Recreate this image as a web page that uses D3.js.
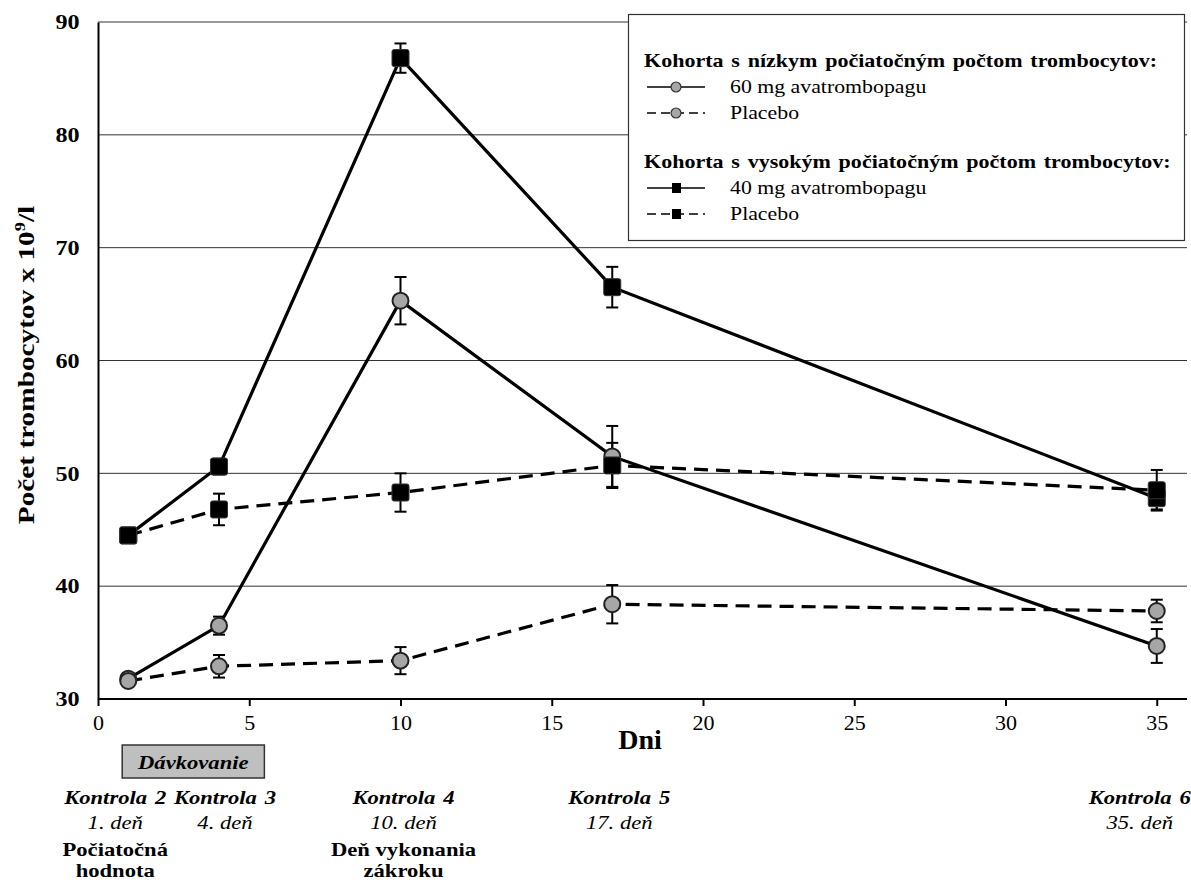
<!DOCTYPE html>
<html>
<head>
<meta charset="utf-8">
<script src="https://cdn.jsdelivr.net/npm/d3@7"></script>
<style>
  body { margin: 0; background: #fff; }
  svg { display: block; font-family: "Liberation Serif", "Times New Roman", serif; }
</style>
</head>
<body>
<svg id="chart" width="1191" height="883"></svg>
<script>
// data
const days = [1, 4, 10, 17, 35];
const low60 = [31.8, 36.5, 65.3, 51.5, 34.7];
const low60Err = [0.3, 0.8, 2.1, 2.7, 1.5];
const lowPlacebo = [31.6, 32.9, 33.4, 38.4, 37.8];
const lowPlaceboErr = [0.3, 1.0, 1.2, 1.7, 1.0];
const high40 = [44.5, 50.6, 86.8, 66.5, 47.8];
const high40Err = [0.3, 0.7, 1.3, 1.8, 1.0];
const highPlacebo = [44.5, 46.8, 48.3, 50.7, 48.5];
const highPlaceboErr = [0.3, 1.4, 1.7, 2.0, 1.8];
const xTicks = [0, 5, 10, 15, 20, 25, 30, 35];
const yTicks = [30, 40, 50, 60, 70, 80, 90];
const visitNames = ["Kontrola 2", "Kontrola 3", "Kontrola 4", "Kontrola 5", "Kontrola 6"];
const visitDays = ["1. deň", "4. deň", "10. deň", "17. deň", "35. deň"];
const legendTitles = ["Kohorta s nízkym počiatočným počtom trombocytov:",
                      "Kohorta s vysokým počiatočným počtom trombocytov:"];

const series = [
  { name: "60 mg avatrombopagu", values: low60, err: low60Err, shape: "circle", dashed: false },
  { name: "Placebo", values: lowPlacebo, err: lowPlaceboErr, shape: "circle", dashed: true },
  { name: "40 mg avatrombopagu", values: high40, err: high40Err, shape: "square", dashed: false },
  { name: "Placebo", values: highPlacebo, err: highPlaceboErr, shape: "square", dashed: true }
];

const svg = d3.select("#chart");
const m = { left: 98, right: 1187, top: 22, bottom: 699 };
const SX = 1.16; // the source text is a bit wider than plain Times

const x = d3.scaleLinear().domain([0, 36]).range([m.left, m.right]);
const y = d3.scaleLinear().domain([30, 90]).range([m.bottom, m.top]);

// text with a horizontal stretch
function stext(parent, tx, ty, str, size, opts = {}) {
  return parent.append("text")
    .attr("transform", `translate(${tx},${ty}) scale(${opts.sx || SX},1)`)
    .attr("text-anchor", opts.anchor || "start")
    .attr("font-size", size)
    .attr("font-weight", opts.bold ? "bold" : null)
    .attr("font-style", opts.italic ? "italic" : null)
    .attr("word-spacing", opts.ws || null)
    .text(str);
}

// gridlines
svg.append("g")
  .selectAll("line")
  .data(yTicks.filter(d => d > 30))
  .join("line")
  .attr("x1", m.left).attr("x2", m.right)
  .attr("y1", d => y(d)).attr("y2", d => y(d))
  .attr("stroke", "#333").attr("stroke-width", 1);

// x axis
const xAxis = svg.append("g")
  .attr("transform", `translate(0,${m.bottom})`)
  .call(d3.axisBottom(x).tickValues(xTicks).tickSize(7).tickPadding(10).tickFormat(d3.format("d")));
xAxis.select(".domain").attr("stroke", "#000").attr("stroke-width", 2).attr("d", `M${m.left},0H${m.right}`);
xAxis.selectAll(".tick line").attr("stroke", "#000").attr("stroke-width", 2);
xAxis.selectAll(".tick text").attr("font-size", 20).attr("font-family", "Liberation Serif")
  .attr("fill", "#000").attr("transform", "scale(1.1,1)");

// y axis
const yAxis = svg.append("g")
  .attr("transform", `translate(${m.left},0)`)
  .call(d3.axisLeft(y).tickValues(yTicks).tickSize(0).tickPadding(16));
yAxis.select(".domain").attr("stroke", "#000").attr("stroke-width", 2);
yAxis.selectAll(".tick text").attr("font-size", 21).attr("font-weight", "bold")
  .attr("font-family", "Liberation Serif").attr("fill", "#000").attr("transform", "scale(1.15,1)");

// axis titles
svg.append("text")
  .attr("x", 640).attr("y", 749)
  .attr("text-anchor", "middle")
  .attr("font-size", 28).attr("font-weight", "bold")
  .text("Dni");

const yTitle = svg.append("text")
  .attr("transform", "translate(34,365) rotate(-90) scale(1.22,1)")
  .attr("text-anchor", "middle")
  .attr("font-size", 24).attr("font-weight", "bold");
yTitle.append("tspan").text("Počet trombocytov x 10");
yTitle.append("tspan").attr("font-size", 15).attr("dy", -9).text("9");
yTitle.append("tspan").attr("dy", 9).text("/l");

// lines
const line = d3.line().x((d, i) => x(days[i])).y(d => y(d));
const plot = svg.append("g");
series.forEach(s => {
  plot.append("path")
    .datum(s.values)
    .attr("d", line)
    .attr("fill", "none")
    .attr("stroke", "#000")
    .attr("stroke-width", 3.2)
    .attr("stroke-dasharray", s.dashed ? "14,8" : null);
});

// error bars
series.forEach(s => {
  const g = plot.append("g").attr("stroke", "#000").attr("stroke-width", 2);
  s.values.forEach((v, i) => {
    const cx = x(days[i]);
    const y1 = y(v + s.err[i]), y2 = y(v - s.err[i]);
    g.append("line").attr("x1", cx).attr("x2", cx).attr("y1", y1).attr("y2", y2);
    g.append("line").attr("x1", cx - 6).attr("x2", cx + 6).attr("y1", y1).attr("y2", y1);
    g.append("line").attr("x1", cx - 6).attr("x2", cx + 6).attr("y1", y2).attr("y2", y2);
  });
});

function drawMarker(g, shape, cx, cy, size) {
  if (shape === "circle") {
    g.append("circle").attr("cx", cx).attr("cy", cy).attr("r", size / 2)
      .attr("fill", "#a6a6a6").attr("stroke", "#222").attr("stroke-width", 2);
  } else {
    g.append("rect").attr("x", cx - size / 2).attr("y", cy - size / 2)
      .attr("width", size).attr("height", size).attr("rx", 2)
      .attr("fill", "#000").attr("stroke", "#333").attr("stroke-width", 1);
  }
}

// markers
series.forEach(s => {
  const g = plot.append("g");
  s.values.forEach((v, i) => drawMarker(g, s.shape, x(days[i]), y(v), s.shape === "circle" ? 16 : 17));
});

// legend
const lg = svg.append("g");
lg.append("rect").attr("x", 628.5).attr("y", 14.5).attr("width", 556).attr("height", 226)
  .attr("fill", "#fff").attr("stroke", "#333").attr("stroke-width", 1.2);
const titleY = [67, 168];
legendTitles.forEach((t, k) => {
  stext(lg, 644, titleY[k], t, 19.5, { bold: true, ws: 2, sx: 1.13 });
});
series.forEach((s, i) => {
  const ry = titleY[Math.floor(i / 2)] + 20 + (i % 2) * 26;
  lg.append("line").attr("x1", 647).attr("x2", 705).attr("y1", ry).attr("y2", ry)
    .attr("stroke", "#000").attr("stroke-width", 1.3)
    .attr("stroke-dasharray", s.dashed ? "9,5" : null);
  if (s.shape === "circle") {
    lg.append("circle").attr("cx", 676).attr("cy", ry).attr("r", 5)
      .attr("fill", "#a6a6a6").attr("stroke", "#333").attr("stroke-width", 1.2);
  } else {
    lg.append("rect").attr("x", 672).attr("y", ry - 5).attr("width", 9).attr("height", 10).attr("fill", "#000");
  }
  stext(lg, 730, ry + 6, s.name, 18.5, { sx: 1.18 });
});

// dosing box
const dose = svg.append("g");
dose.append("rect").attr("x", x(0.8)).attr("y", 745).attr("width", x(5.5) - x(0.8)).attr("height", 33)
  .attr("fill", "#bfbfbf").attr("stroke", "#333").attr("stroke-width", 1.5);
stext(dose, (x(0.8) + x(5.5)) / 2, 769, "Dávkovanie", 19.5, { anchor: "middle", bold: true, italic: true });

// visit labels under the axis
const nudge = [-13, 6, 3, 7, -17];
const visits = svg.append("g");
days.forEach((d, i) => {
  const cx = x(d) + nudge[i];
  stext(visits, cx, 804, visitNames[i], 19.5, { anchor: "middle", bold: true, italic: true, ws: 2 });
  stext(visits, cx, 829, visitDays[i], 19.5, { anchor: "middle", italic: true });
});
const notes = [["Počiatočná", "hodnota"], ["Deň vykonania", "zákroku"]];
const noteX = [x(days[0]) - 13, x(days[2]) + 3];
notes.forEach((lines, k) => {
  lines.forEach((t, j) => {
    stext(visits, noteX[k], 856 + j * 21, t, 19.5, { anchor: "middle", bold: true });
  });
});
</script>
</body>
</html>
